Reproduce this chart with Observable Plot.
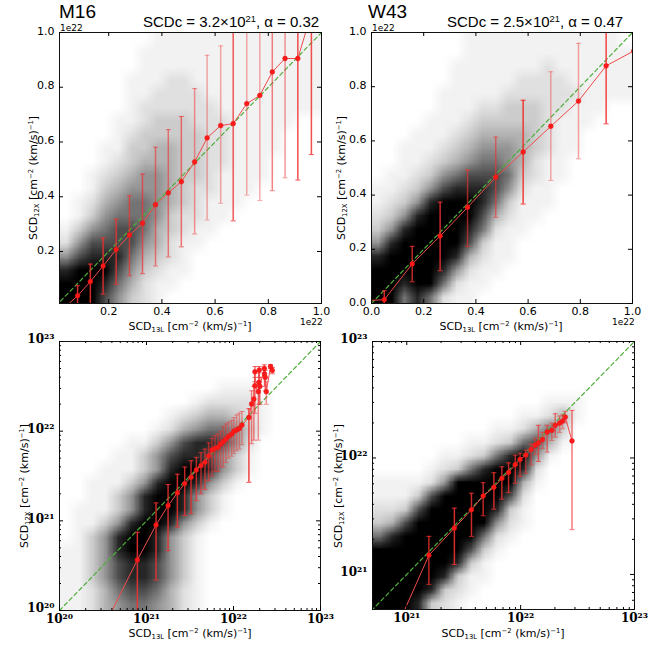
<!DOCTYPE html>
<html><head><meta charset="utf-8">
<script src="https://cdn.jsdelivr.net/npm/d3@7"></script>
<script src="https://cdn.jsdelivr.net/npm/@observablehq/plot@0.6"></script>
<style>
body{margin:0;background:#fff;}
#root{position:relative;width:654px;height:664px;overflow:hidden;font-family:"DejaVu Sans",sans-serif;color:#000;}
.abs{position:absolute;white-space:nowrap;line-height:1;}
sub{font-size:0.62em;vertical-align:-0.3em;line-height:0;}
sup{font-size:0.62em;vertical-align:0.55em;line-height:0;}
</style></head><body><div id="root"></div>
<script>
// ---------------- data ----------------
// M16 linear (units of 1e22)
const m16LinX  = [0.034,0.083,0.131,0.179,0.228,0.278,0.327,0.376,0.424,0.473,0.523,0.570,0.621,0.668,0.719,0.768,0.815,0.863,0.911,0.962];
const m16LinY  = [-0.005,0.038,0.090,0.147,0.207,0.260,0.303,0.371,0.414,0.455,0.527,0.615,0.660,0.667,0.740,0.770,0.856,0.905,0.905,1.07];
const m16LinLo = [null,-0.01,-0.005,0.044,0.080,0.111,0.119,0.147,0.180,0.217,0.264,0.315,0.376,0.312,0.406,0.386,0.422,0.469,0.461,0.554];
const m16LinHi = [null,0.075,0.154,0.249,0.318,0.404,0.483,0.581,0.645,0.693,0.795,0.917,0.951,1.12,1.12,1.15,1.2,1.3,1.3,1.5];
const m16LinAlpha = [1,0.9,0.9,0.85,0.8,0.7,0.7,0.6,0.6,0.65,0.5,0.4,0.4,0.8,0.4,0.4,0.6,0.5,0.85,0.85];

// W43 linear (units of 1e22)
const w43LinX  = [-0.057,0.049,0.156,0.263,0.368,0.476,0.581,0.687,0.793,0.899,1.005];
const w43LinY  = [0.009,0.014,0.146,0.249,0.355,0.466,0.559,0.654,0.747,0.877,0.932];
const w43LinLo = [null,-0.02,0.080,0.121,0.210,0.318,0.367,0.454,0.534,0.663,null];
const w43LinHi = [null,0.047,0.211,0.374,0.493,0.614,0.750,0.855,0.960,1.2,null];
const w43LinAlpha = [1,0.9,0.8,0.85,0.65,0.6,0.95,0.4,0.45,0.9,1];

// M16 log (log10 values)
const m16LogX  = [20.47,20.895,21.110,21.248,21.355,21.439,21.512,21.573,21.626,21.672,21.714,21.753,21.787,21.822,21.852,21.883,21.913,21.944,21.979,22.005,22.036,22.067,22.097,22.177,22.208,22.234,22.246,22.246,22.285,22.292,22.296,22.303,22.354,22.357,22.365,22.377,22.426,22.446];
const m16LogY  = [19.74,20.564,20.954,21.170,21.311,21.415,21.485,21.567,21.615,21.652,21.723,21.790,21.808,21.820,21.857,21.883,21.912,21.942,21.968,21.998,22.013,22.03,22.068,22.153,22.303,22.358,22.662,22.506,22.440,22.543,22.681,22.499,22.699,22.637,22.599,22.440,22.721,22.677];
const m16LogLo = [null,19.5,20.34,20.668,20.93,21.06,21.08,21.225,21.3,21.35,21.45,21.5,21.55,21.55,21.6,21.6,21.65,21.7,21.72,21.75,21.78,21.8,21.85,21.43,21.86,21.9,22.55,22.2,21.9,22.3,22.6,22.3,22.65,22.5,22.45,22.3,22.7,22.64];
const m16LogHi = [20.26,20.873,21.2,21.404,21.52,21.60,21.67,21.708,21.76,21.80,21.87,21.92,21.95,21.97,22.0,22.05,22.08,22.1,22.12,22.15,22.18,22.2,22.22,22.25,22.45,22.5,22.72,22.6,22.55,22.65,22.72,22.6,22.74,22.7,22.68,22.55,22.74,22.71];
const m16LogAlpha = [0.9,0.9,0.85,0.85,0.85,0.8,0.8,0.75,0.7,0.7,0.65,0.6,0.6,0.55,0.5,0.5,0.5,0.45,0.45,0.45,0.45,0.45,0.45,0.9,0.6,0.6,0.7,0.7,0.5,0.7,0.7,0.6,0.7,0.7,0.7,0.5,0.7,0.7];

// W43 log (log10 values)
const w43LogX  = [20.97,21.194,21.418,21.568,21.671,21.765,21.835,21.894,21.953,21.995,22.045,22.092,22.127,22.156,22.192,22.233,22.274,22.304,22.342,22.368,22.392,22.451];
const w43LogY  = [20.67,21.165,21.398,21.555,21.674,21.748,21.825,21.875,21.943,21.987,22.024,22.073,22.109,22.129,22.158,22.223,22.237,22.280,22.299,22.317,22.351,22.146];
const w43LogLo = [null,20.915,21.085,21.327,21.504,21.56,21.646,21.702,21.782,21.84,21.868,21.94,22.03,21.97,22.08,22.05,22.15,22.18,22.22,22.25,22.30,21.384];
const w43LogHi = [null,21.327,21.569,21.697,21.788,21.873,21.924,21.958,22.024,22.04,22.067,22.12,22.17,22.28,22.22,22.28,22.30,22.38,22.36,22.37,22.40,22.408];
const w43LogAlpha = [1,0.8,0.9,0.85,0.8,0.85,0.8,0.8,0.75,0.7,0.6,0.6,0.5,0.7,0.5,0.6,0.5,0.6,0.5,0.5,0.5,0.65];

// point-density estimates of the scatter clouds (0 = empty .. 9 = solid), 20x20, top row first
const m16LinGrid = [
"00000001111111111111","00000011111111111111","00000011111111111111","00000111221111111111",
"00000112222111111111","00000122222211111111","00001123332221111100","00001233333221111000",
"00011334433221111000","00012344433221110000","00123455433211110000","00134555432211100000",
"01245665432111000000","01356665322110000000","13567764321100000000","25777754211000000000",
"57888643210000000000","89997532110000000000","99986421100000000000","99975321000000000000"];
const w43LinGrid = [
"00000001111111111110","00000001111111111111","00000011111112111111","00000011111222211111",
"00000111112222221111","00000111223332211100","00001112333332111000","00011123444432110000",
"00111234555432110000","00112345665421100000","01123567776321100000","11235788875211000000",
"12358999863111000000","23589999742110000000","35899998621100000000","58999997311000000000",
"89999984211000000000","99999852110000000000","99899621100000000000","99686211000000000000"];
const m16LogGrid = [
"00000000000000000000","00000000000000000000","00000000000000000000","00000000000011100000",
"00000000001222210000","00000000123443210000","00000001245665310000","00000113578875200000",
"00001135788753100000","00011135899853100000","00111358998531000000","00113589985310000000",
"01113589985310000000","01135899853100000000","01358998531000000000","11358998531000000000",
"11357887531000000000","11357887531000000000","11246776421000000000","11245665421000000000"];
const w43LogGrid = [
"00000000000000000000","00000000000000000000","00000000000000000000","00000000000000000000",
"00000000000001110000","00000000000112410000","00000000011246300000","00000001123674100000",
"00000112368951000000","00001236899820000000","11112599999410000000","11137999997200000000",
"22379999983100000000","34799999952100000000","68999999621000000000","99999997310000000000",
"99999983100000000000","99999831100000000000","99998321000000000000","99983210000000000000"];

const densityLevels = [0,1,2,3,4,5,6,7,8,9];
const densityGreys  = ["#ffffff","#f2f2f2","#e0e0e0","#cccccc","#b3b3b3","#949494","#737373","#4d4d4d","#262626","#000000"];

const linTicksM16 = [0.2,0.4,0.6,0.8,1.0];
const linTicksW43 = [0.0,0.2,0.4,0.6,0.8,1.0];
const logMajorM16 = [1e20,1e21,1e22,1e23];
const logMajorW43 = [1e21,1e22,1e23];
const logMinorM16 = [2e20,3e20,4e20,5e20,6e20,7e20,8e20,9e20,2e21,3e21,4e21,5e21,6e21,7e21,8e21,9e21,2e22,3e22,4e22,5e22,6e22,7e22,8e22,9e22];
const logMinorW43 = [5e20,6e20,7e20,8e20,9e20,2e21,3e21,4e21,5e21,6e21,7e21,8e21,9e21,2e22,3e22,4e22,5e22,6e22,7e22,8e22,9e22];
const oneToOneLin = [0, 1.2];
const oneToOneLog = [1e20, 1e23];

// ---------------- drawing ----------------
const root = document.getElementById("root");
const supDigits = {"0":"\u2070","1":"\u00B9","2":"\u00B2","3":"\u00B3","4":"\u2074","5":"\u2075","6":"\u2076","7":"\u2077","8":"\u2078","9":"\u2079"};
const logFmt = d => "10" + String(Math.round(Math.log10(d))).split("").map(c => supDigits[c]).join("");
const linFmt = d3.format(".1f");
const capSymbol = {draw(ctx, size){ const r = Math.sqrt(size/Math.PI); ctx.moveTo(-r,0); ctx.lineTo(r,0); }};

function table(X, Y, LO, HI, A, f) {
  return X.map((x,i) => ({x: f(x), y: f(Y[i]), lo: LO[i]==null?null:f(LO[i]), hi: HI[i]==null?null:f(HI[i]), a: A[i]}));
}

const mL = 50, mR = 12, mT = 10, mB = 28;
function place(svg, c) {
  const div = document.createElement("div");
  div.className = "abs";
  div.style.left = (c.left - mL) + "px";
  div.style.top = (c.top - mT) + "px";
  div.style.width = (c.fw + mL + mR) + "px";
  div.appendChild(svg);
  root.appendChild(div);
}

function panel(c) {
  const W = c.fw + mL + mR, H = c.fh + mT + mB;
  const vals = c.grid.join("").split("").map(Number);
  // density layer: drawn on a linear scale of the displayed coordinate (log10 for log panels)
  const dX = c.log ? c.xDomain.map(Math.log10) : c.xDomain;
  const dY = c.log ? c.yDomain.map(Math.log10) : c.yDomain;
  const bg = Plot.plot({
    width: W, height: H, marginLeft: mL, marginRight: mR, marginTop: mT, marginBottom: mB,
    x: {domain: dX, axis: null}, y: {domain: dY, axis: null},
    color: {type: "linear", domain: densityLevels, range: densityGreys},
    style: {background: "transparent"},
    marks: [Plot.raster(vals, {width: 20, height: 20, x1: dX[0], x2: dX[1], y1: dY[1], y2: dY[0], fill: d => d, imageRendering: "auto"})]
  });
  place(bg, c);

  const bars = c.data.filter(d => d.lo != null && d.hi != null);
  const red = "#f03030";
  const tickFont = c.log ? {fontFamily:"DejaVu Serif", fontWeight:"bold", fontSize:12} : {fontFamily:"DejaVu Sans", fontSize:11};
  const ticks = (tx, ty, len) => [
    Plot.tickX(tx, {x: d=>d, insetTop: c.fh - len, stroke:"#000"}),
    Plot.tickX(tx, {x: d=>d, insetBottom: c.fh - len, stroke:"#000"}),
    Plot.tickY(ty, {y: d=>d, insetRight: c.fw - len, stroke:"#000"}),
    Plot.tickY(ty, {y: d=>d, insetLeft: c.fw - len, stroke:"#000"})
  ];
  const svg = Plot.plot({
    width: W, height: H, marginLeft: mL, marginRight: mR, marginTop: mT, marginBottom: mB,
    x: {type: c.log ? "log" : "linear", domain: c.xDomain},
    y: {type: c.log ? "log" : "linear", domain: c.yDomain},
    style: {background: "transparent", overflow: "visible"},
    marks: [
      Plot.line(c.oneToOne, {x: d=>d, y: d=>d, stroke:"#4fae3c", strokeWidth: 1.2, strokeDasharray: "4,3", clip: true}),
      Plot.ruleX(bars, {x:"x", y1:"lo", y2:"hi", stroke: red, strokeOpacity: "a", strokeWidth: 1.5, clip: true}),
      Plot.dot(bars, {x:"x", y:"lo", symbol: capSymbol, r: 2.5, stroke: red, strokeOpacity: "a", strokeWidth: 1, fill: "none", clip: true}),
      Plot.dot(bars, {x:"x", y:"hi", symbol: capSymbol, r: 2.5, stroke: red, strokeOpacity: "a", strokeWidth: 1, fill: "none", clip: true}),
      Plot.line(c.data, {x:"x", y:"y", stroke:"#f04a4a", strokeWidth: 1, clip: true}),
      Plot.dot(c.data, {x:"x", y:"y", r: 2.4, fill:"#ff1a1a", stroke:"#e01010", strokeWidth: 0.5, clip: true}),
      Plot.frame({stroke:"#111", strokeWidth: 1}),
      ...ticks(c.xTicks, c.yTicks, 4),
      ...(c.xMinor ? ticks(c.xMinor, c.yMinor, 2) : []),
      Plot.axisX(c.xTicks, {anchor:"bottom", tickSize: 0, tickPadding: 4, tickFormat: c.log ? logFmt : linFmt, label: null, ...tickFont}),
      Plot.axisY(c.yTicks, {anchor:"left", tickSize: 0, tickPadding: 5, dy: c.log ? -2 : -1.5, tickFormat: c.log ? logFmt : linFmt, label: null, ...tickFont})
    ]
  });
  place(svg, c);
}

function label(html, css) {
  const d = document.createElement("div");
  d.className = "abs";
  d.innerHTML = html;
  Object.assign(d.style, css);
  root.appendChild(d);
}

const ident = v => v, pow10 = v => Math.pow(10, v);

panel({left: 59, top: 32, fw: 262, fh: 271, log: false, xDomain: [0.015, 1.0], yDomain: [0.01, 1.0],
  grid: m16LinGrid, data: table(m16LinX, m16LinY, m16LinLo, m16LinHi, m16LinAlpha, ident),
  xTicks: linTicksM16, yTicks: linTicksM16, oneToOne: oneToOneLin});
panel({left: 371, top: 32, fw: 261, fh: 271, log: false, xDomain: [0, 1.0], yDomain: [0, 1.0],
  grid: w43LinGrid, data: table(w43LinX, w43LinY, w43LinLo, w43LinHi, w43LinAlpha, ident),
  xTicks: linTicksW43, yTicks: linTicksW43, oneToOne: oneToOneLin});
panel({left: 59, top: 341, fw: 261, fh: 269, log: true, xDomain: [1e20, 1e23], yDomain: [1e20, 1e23],
  grid: m16LogGrid, data: table(m16LogX, m16LogY, m16LogLo, m16LogHi, m16LogAlpha, pow10),
  xTicks: logMajorM16, yTicks: logMajorM16, xMinor: logMinorM16, yMinor: logMinorM16, oneToOne: oneToOneLog});
panel({left: 372, top: 341, fw: 262, fh: 268, log: true, xDomain: [5e20, 1e23], yDomain: [5e20, 1e23],
  grid: w43LogGrid, data: table(w43LogX, w43LogY, w43LogLo, w43LogHi, w43LogAlpha, pow10),
  xTicks: logMajorW43, yTicks: logMajorW43, xMinor: logMinorW43, yMinor: logMinorW43, oneToOne: oneToOneLog});

// titles
const sans = '"Liberation Sans",Arial,sans-serif';
label("M16", {left:"59px", top:"2px", fontSize:"19px", fontFamily: sans});
label("SCDc = 3.2×10<sup>21</sup>, α = 0.32", {left:"143px", top:"14px", fontSize:"15px", fontFamily: sans});
label("W43", {left:"368px", top:"2px", fontSize:"19px", fontFamily: sans});
label("SCDc = 2.5×10<sup>21</sup>, α = 0.47", {left:"447px", top:"14px", fontSize:"15px", fontFamily: sans});

// offset labels
label("1e22", {left:"60px", top:"24px", fontSize:"9px"});
label("1e22", {left:"372px", top:"24px", fontSize:"9px"});
label("1e22", {left:"300px", top:"318px", fontSize:"9px"});
label("1e22", {left:"612px", top:"318px", fontSize:"9px"});

// axis titles
const xLab = "SCD<sub>13L</sub> [cm<sup>−2</sup> (km/s)<sup>−1</sup>]";
const yLab = "SCD<sub>12X</sub> [cm<sup>−2</sup> (km/s)<sup>−1</sup>]";
label(xLab, {left:"190px", top:"321px", fontSize:"11px", transform:"translateX(-50%)"});
label(xLab, {left:"501px", top:"321px", fontSize:"11px", transform:"translateX(-50%)"});
label(xLab, {left:"190px", top:"628px", fontSize:"11px", transform:"translateX(-50%)"});
label(xLab, {left:"503px", top:"628px", fontSize:"11px", transform:"translateX(-50%)"});
label(yLab, {left:"33px", top:"178px", fontSize:"11px", transform:"translate(-50%,-50%) rotate(-90deg)"});
label(yLab, {left:"341px", top:"178px", fontSize:"11px", transform:"translate(-50%,-50%) rotate(-90deg)"});
label(yLab, {left:"24px", top:"486px", fontSize:"11px", transform:"translate(-50%,-50%) rotate(-90deg)"});
label(yLab, {left:"338px", top:"486px", fontSize:"11px", transform:"translate(-50%,-50%) rotate(-90deg)"});
</script></body></html>
